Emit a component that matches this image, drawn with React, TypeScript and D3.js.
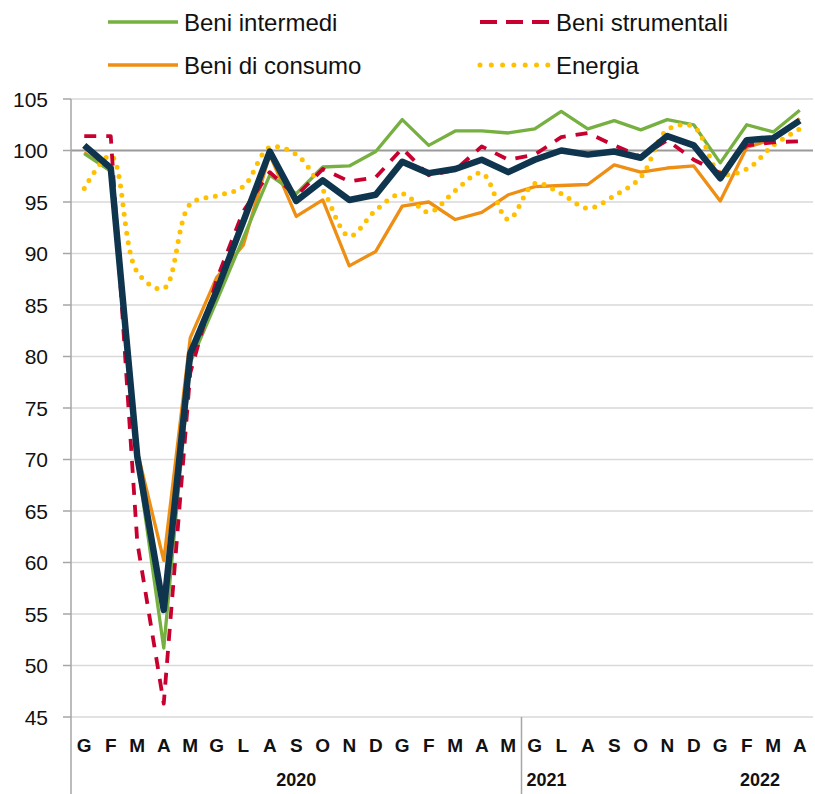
import * as d3 from "d3";

// mesi (gen 2020 - apr 2022)
const months = ["G","F","M","A","M","G","L","A","S","O","N","D","G","F","M","A","M","G","L","A","S","O","N","D","G","F","M","A"];
const yTicks = [45, 50, 55, 60, 65, 70, 75, 80, 85, 90, 95, 100, 105];

const beniIntermedi = [99.7, 98.0, 70.0, 51.7, 79.4, 85.4, 91.5, 97.6, 95.8, 98.4, 98.5, 99.9, 103.0, 100.5, 101.9, 101.9, 101.7, 102.1, 103.8, 102.1, 102.9, 102.0, 103.0, 102.5, 98.8, 102.5, 101.8, 103.9];
const beniStrumentali = [101.4, 101.4, 62.0, 46.3, 78.4, 87.5, 94.1, 97.9, 95.6, 98.2, 97.0, 97.4, 100.2, 97.6, 98.1, 100.4, 99.1, 99.6, 101.3, 101.7, 100.5, 99.4, 101.0, 99.1, 97.8, 100.5, 100.8, 100.9];
const beniConsumo = [99.8, 98.0, 70.8, 60.2, 81.8, 87.7, 90.8, 99.6, 93.6, 95.2, 88.8, 90.2, 94.6, 95.0, 93.3, 94.0, 95.7, 96.5, 96.6, 96.7, 98.6, 97.9, 98.3, 98.5, 95.1, 100.3, 101.1, 103.1];
const energia = [96.3, 99.5, 88.2, 86.6, 94.8, 95.6, 96.5, 100.3, 99.6, 96.2, 91.7, 94.2, 95.8, 94.0, 96.1, 97.8, 93.3, 96.8, 95.8, 94.4, 95.6, 97.4, 102.0, 102.3, 97.8, 98.2, 100.5, 102.1];
const generale = [100.5, 98.3, 70.3, 55.4, 80.3, 86.4, 93.1, 99.9, 95.1, 97.1, 95.2, 95.7, 98.9, 97.8, 98.2, 99.1, 97.9, 99.1, 100.0, 99.6, 99.9, 99.3, 101.4, 100.5, 97.3, 101.0, 101.2, 102.9];

const years = [
  { label: "2020", from: 0, to: 16, anchor: "middle" },
  { label: "2021", from: 17, to: 17, anchor: "start" },
  { label: "2022", from: 25, to: 26, anchor: "middle" },
];

const font = "Liberation Sans, Arial, sans-serif";

export default function App() {
  const width = 815;
  const height = 794;
  const left = 71;
  const right = 813;
  const top = 99;
  const bottom = 717;

  const x = d3.scaleBand<number>()
    .domain(months.map((_, i) => i))
    .range([left, right]);
  const bw = x.bandwidth();
  const cx = (i: number) => (x(i) ?? 0) + bw / 2;

  const y = d3.scaleLinear().domain([45, 105]).range([bottom, top]);

  const line = d3.line<number>().x((_, i) => cx(i)).y(d => y(d));
  const smooth = d3.line<number>().x((_, i) => cx(i)).y(d => y(d)).curve(d3.curveCatmullRom.alpha(0.5));

  const series = [
    { data: beniConsumo, color: "#EE8E12", w: 3.3, dash: undefined, gen: line },
    { data: beniIntermedi, color: "#76B041", w: 3.3, dash: undefined, gen: line },
    { data: energia, color: "#FFC000", w: 5, dash: "0,9.5", gen: smooth, cap: "round" },
    { data: beniStrumentali, color: "#C8002F", w: 3.8, dash: "12,10", gen: line },
    { data: generale, color: "#0E344E", w: 6.5, dash: undefined, gen: line },
  ];

  const legend = [
    { label: "Beni intermedi", color: "#76B041", x: 108, y: 22, w: 3.3, dash: undefined },
    { label: "Beni strumentali", color: "#C8002F", x: 480, y: 22, w: 3.8, dash: "17,9" },
    { label: "Beni di consumo", color: "#EE8E12", x: 108, y: 65, w: 3.3, dash: undefined },
    { label: "Energia", color: "#FFC000", x: 480, y: 65, w: 5, dash: "0,11.3", cap: "round" },
  ];

  const sepX = x(17) ?? 0;

  return (
    <svg width={width} height={height} style={{ position: "absolute", left: 0, top: 0, background: "#fff" }}>
      {/* griglia */}
      {yTicks.map(t => (
        <g key={t}>
          <line x1={left} x2={right} y1={y(t)} y2={y(t)}
            stroke={t === 100 ? "#9A9A9A" : "#D9D9D9"} strokeWidth={t === 100 ? 2 : 1.5} />
          <line x1={63} x2={left} y1={y(t)} y2={y(t)} stroke="#A6A6A6" strokeWidth={1.5} />
          <text x={48} y={y(t)} dy="0.36em" textAnchor="end" fontFamily={font} fontSize={21} fill="#111">{t}</text>
        </g>
      ))}
      <line x1={left} x2={left} y1={top} y2={height} stroke="#A6A6A6" strokeWidth={1.5} />
      <line x1={sepX} x2={sepX} y1={bottom} y2={height} stroke="#A6A6A6" strokeWidth={1.5} />

      {/* serie */}
      {series.map((s, k) => (
        <path key={k} d={s.gen(s.data) ?? ""} fill="none" stroke={s.color} strokeWidth={s.w}
          strokeDasharray={s.dash} strokeLinecap={(s as any).cap ?? "butt"} strokeLinejoin="round" />
      ))}

      {/* asse x */}
      {months.map((m, i) => (
        <text key={i} x={cx(i)} y={745} dy="0.36em" textAnchor="middle" fontFamily={font}
          fontWeight="bold" fontSize={19} fill="#111">{m}</text>
      ))}
      {years.map(yr => {
        const xx = yr.anchor === "start" ? (x(yr.from) ?? 0) + 5 : (cx(yr.from) + cx(yr.to)) / 2;
        return (
          <text key={yr.label} x={xx} y={780} dy="0.36em" textAnchor={yr.anchor} fontFamily={font}
            fontWeight="bold" fontSize={18} fill="#111">{yr.label}</text>
        );
      })}

      {/* legenda */}
      {legend.map(l => (
        <g key={l.label}>
          <line x1={l.x} x2={l.x + 70} y1={l.y} y2={l.y} stroke={l.color} strokeWidth={l.w}
            strokeDasharray={l.dash} strokeLinecap={(l as any).cap ?? "butt"} />
          <text x={l.x + 76} y={l.y} dy="0.36em" fontFamily={font} fontSize={24} fill="#111">{l.label}</text>
        </g>
      ))}
    </svg>
  );
}
